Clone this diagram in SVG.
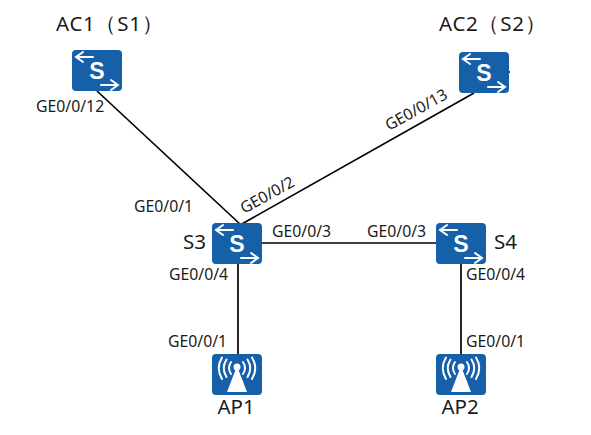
<svg xmlns="http://www.w3.org/2000/svg" width="591" height="435" viewBox="0 0 591 435">
<style>
text{font-family:"Noto Sans","Open Sans","DejaVu Sans",sans-serif;fill:#1a1a1a}
.p{font-size:15.800px}
.n{font-size:20.500px}
.w2{letter-spacing:0.700px}
.l{stroke:#000;stroke-width:1.700;fill:none}
.b{fill:#1560a8}
.w{fill:none;stroke:#fff;stroke-width:2;stroke-linecap:round}
.s{font-family:"Liberation Sans",sans-serif;font-size:23px;font-weight:bold;fill:#fff;text-anchor:middle}
</style>
<defs>
<g id="sw">
<rect class="b" x="0" y="0" width="50" height="41" rx="4"/>
<path class="w" d="M4 7H21M11 2L4 7L11 12M29 35H46M39 30L46 35L39 40"/>
<text class="s" x="25" y="29">S</text>
</g>
<g id="ap">
<rect class="b" x="0" y="0" width="50" height="41" rx="4"/>
<path fill="#fff" d="M25 12L35 38H15Z"/>
<circle cx="25" cy="13" r="3.500" fill="#fff"/>
<path class="w" d="M19 8Q15 14 19 20M14.500 5.500Q9 14 14.500 23M10 3.500Q3.500 14 10 25M31 8Q35 14 31 20M35.500 5.500Q41 14 35.500 23M40 3.500Q46.500 14 40 25"/>
</g>
</defs>
<g id="connectors">
<path class="l" d="M97 91L241 225"/>
<path class="l" d="M474 93L240 225"/>
<path class="l" d="M262 243H436"/>
<path class="l" d="M238 264V354"/>
<path class="l" d="M461 264V354"/>
<path class="l" d="M508 72H510"/>
</g>
<g id="ac1"><use href="#sw" x="72" y="50"/><text class="n w2" x="56" y="31">AC1（S1）</text><text class="p" x="36" y="112">GE0/0/12</text></g>
<g id="ac2"><use href="#sw" x="459" y="52"/><text class="n w2" x="439" y="31">AC2（S2）</text><text class="p" transform="translate(389 131) rotate(-29)">GE0/0/13</text></g>
<g id="s3"><use href="#sw" x="212" y="223"/><text class="n" x="183" y="249">S3</text><text class="p" x="134" y="212">GE0/0/1</text><text class="p" transform="translate(244 214) rotate(-29)">GE0/0/2</text><text class="p" x="272" y="237">GE0/0/3</text><text class="p" x="169" y="280">GE0/0/4</text></g>
<g id="s4"><use href="#sw" x="436" y="223"/><text class="n" x="494" y="249">S4</text><text class="p" x="367" y="237">GE0/0/3</text><text class="p" x="466" y="280">GE0/0/4</text></g>
<g id="ap1"><use href="#ap" x="212" y="354"/><text class="n" x="236" y="414" text-anchor="middle">AP1</text><text class="p" x="168" y="347">GE0/0/1</text></g>
<g id="ap2"><use href="#ap" x="436" y="354"/><text class="n" x="460" y="414" text-anchor="middle">AP2</text><text class="p" x="466" y="347">GE0/0/1</text></g>
</svg>
